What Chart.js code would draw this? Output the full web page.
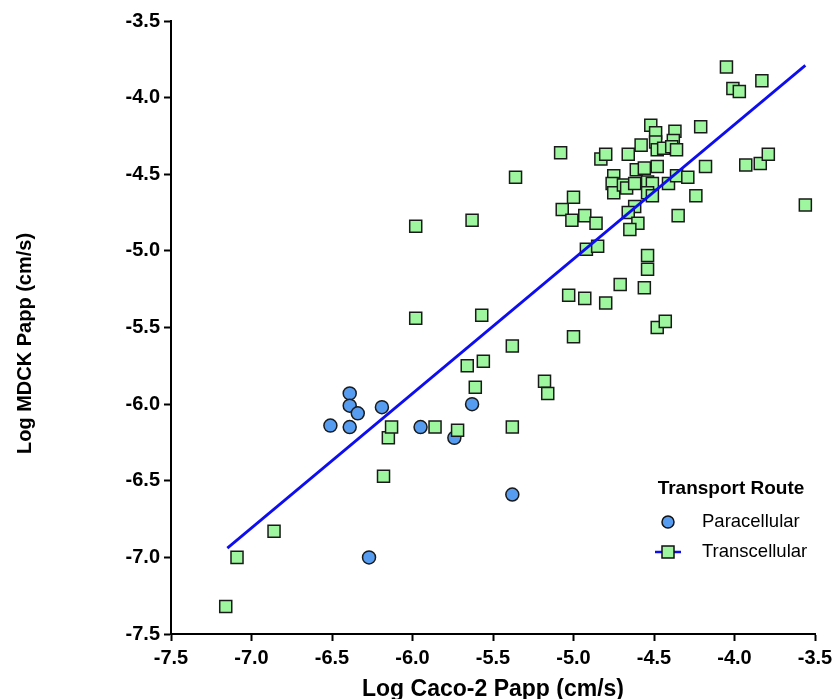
<!DOCTYPE html>
<html>
<head>
<meta charset="utf-8">
<script src="https://cdn.jsdelivr.net/npm/chart.js@4.4.1/dist/chart.umd.min.js"></script>
<style>
  body { margin: 0; background: #fff; }
  #wrap { width: 833px; height: 699px; }
</style>
</head>
<body>
<div id="wrap"><canvas id="myChart" width="833" height="699"></canvas></div>
<script>
// DATA (log Papp, cm/s)
const paraX = [-6.51, -6.39, -6.39, -6.34, -6.39, -6.19, -5.95, -5.74, -5.63, -6.27, -5.38];
const paraY = [-6.14, -5.93, -6.01, -6.06, -6.15, -6.02, -6.15, -6.22, -6.00, -7.00, -6.59];

const transX = [
  -7.16, -7.09, -6.86, -6.18, -6.15, -6.13, -5.86, -5.72, -5.38, -5.61,
  -5.66, -5.56, -5.38, -5.98, -5.57, -5.18, -5.16, -5.98, -5.63, -5.36,
  -5.08, -5.00, -5.03, -4.93, -4.80, -4.71, -4.56, -4.48, -4.43, -4.92,
  -4.85, -5.07, -5.00, -5.01, -4.93, -4.86, -4.83, -4.80, -4.66, -4.58,
  -4.52, -4.49, -4.49, -4.37, -4.38, -4.21, -4.48, -4.44, -4.39, -4.36,
  -4.61, -4.56, -4.48, -4.75, -4.76, -4.75, -4.69, -4.67, -4.62, -4.54,
  -4.51, -4.54, -4.51, -4.41, -4.36, -4.29, -4.18, -4.24, -4.35, -4.62,
  -4.66, -4.60, -4.65, -4.54, -4.54, -4.05, -4.01, -3.97, -3.83, -3.93,
  -3.84, -3.79, -3.56
];
const transY = [
  -7.32, -7.00, -6.83, -6.47, -6.22, -6.15, -6.15, -6.17, -6.15, -5.89,
  -5.75, -5.72, -5.62, -5.44, -5.42, -5.85, -5.93, -4.84, -4.80, -4.52,
  -4.36, -5.56, -5.29, -5.31, -5.34, -5.22, -5.24, -5.50, -5.46, -4.99,
  -4.97, -4.73, -4.65, -4.80, -4.77, -4.82, -4.40, -4.37, -4.37, -4.31,
  -4.18, -4.23, -4.29, -4.22, -4.28, -4.19, -4.34, -4.33, -4.32, -4.34,
  -4.47, -4.46, -4.45, -4.51, -4.56, -4.62, -4.57, -4.59, -4.56, -4.55,
  -4.56, -4.62, -4.64, -4.56, -4.51, -4.52, -4.45, -4.64, -4.77, -4.71,
  -4.75, -4.82, -4.86, -5.03, -5.12, -3.80, -3.94, -3.96, -3.89, -4.44,
  -4.43, -4.37, -4.70
];

// fitted line ends
const fitX = [-7.15, -3.56];
const fitY = [-6.94, -3.79];

const axisMin = -7.5;
const axisMax = -3.5;
const axisStep = 0.5;

const toPoints = (xs, ys) => xs.map((x, i) => ({ x: x, y: ys[i] }));

const PARA_COLOR = '#569cf0';
const TRANS_COLOR = '#9ef79e';
const LINE_COLOR = '#0d0df0';
const FONT = 'Arial, "Liberation Sans", Helvetica, sans-serif';

Chart.defaults.font.family = FONT;
Chart.defaults.color = '#000';

// y title + legend, drawn by hand so they sit where the original has them
const extras = {
  id: 'extras',
  afterDraw(chart) {
    const ctx = chart.ctx;
    const area = chart.chartArea;
    ctx.save();

    // y axis title
    ctx.save();
    ctx.translate(25, (area.top + area.bottom) / 2 + 16);
    ctx.rotate(-Math.PI / 2);
    ctx.fillStyle = '#000';
    ctx.textAlign = 'center';
    ctx.textBaseline = 'middle';
    ctx.font = 'bold 20px ' + FONT;
    ctx.fillText('Log MDCK Papp (cm/s)', 0, 0);
    ctx.restore();

    // legend
    const cx = area.right - 84;
    const top = area.bottom - 145;
    ctx.fillStyle = '#000';
    ctx.textBaseline = 'middle';
    ctx.textAlign = 'center';
    ctx.font = 'bold 19px ' + FONT;
    ctx.fillText('Transport Route', cx, top);

    const symX = area.right - 147;
    const textX = area.right - 113;
    ctx.textAlign = 'left';
    ctx.font = '18.5px ' + FONT;

    // Paracellular
    let y = top + 33;
    ctx.beginPath();
    ctx.arc(symX, y, 6, 0, Math.PI * 2);
    ctx.fillStyle = PARA_COLOR;
    ctx.fill();
    ctx.lineWidth = 1.5;
    ctx.strokeStyle = '#111';
    ctx.stroke();
    ctx.fillStyle = '#000';
    ctx.fillText('Paracellular', textX, y);

    // Transcellular
    y = top + 63;
    ctx.beginPath();
    ctx.moveTo(symX - 13, y);
    ctx.lineTo(symX + 13, y);
    ctx.strokeStyle = LINE_COLOR;
    ctx.lineWidth = 2.5;
    ctx.stroke();
    ctx.fillStyle = TRANS_COLOR;
    ctx.fillRect(symX - 6, y - 6, 12, 12);
    ctx.strokeStyle = '#111';
    ctx.lineWidth = 1.5;
    ctx.strokeRect(symX - 6, y - 6, 12, 12);
    ctx.fillStyle = '#000';
    ctx.fillText('Transcellular', textX, y);
    ctx.restore();
  }
};

const axisCommon = {
  type: 'linear',
  min: axisMin,
  max: axisMax,
  border: { display: true, color: '#000', width: 2 },
  grid: {
    display: true,
    drawOnChartArea: false,
    drawTicks: true,
    tickLength: 7,
    tickWidth: 2,
    tickColor: '#000',
  },
  ticks: {
    stepSize: axisStep,
    color: '#000',
    font: { size: 20, weight: 'bold' },
    callback: (v) => v.toFixed(1),
  },
};

const config = {
  type: 'scatter',
  data: {
    datasets: [
      {
        label: 'Fit',
        data: toPoints(fitX, fitY),
        showLine: true,
        borderColor: LINE_COLOR,
        borderWidth: 2.8,
        pointRadius: 0,
        fill: false,
        order: 0,
      },
      {
        label: 'Transcellular',
        data: toPoints(transX, transY),
        pointStyle: 'rect',
        pointRadius: 8.5,
        backgroundColor: TRANS_COLOR,
        borderColor: '#1a1a1a',
        borderWidth: 1.5,
        order: 1,
      },
      {
        label: 'Paracellular',
        data: toPoints(paraX, paraY),
        pointStyle: 'circle',
        pointRadius: 6.5,
        backgroundColor: PARA_COLOR,
        borderColor: '#1a1a1a',
        borderWidth: 1.5,
        order: 2,
      },
    ]
  },
  options: {
    responsive: false,
    animation: false,
    layout: { padding: { top: 21, right: 18, bottom: 0, left: 0 } },
    plugins: {
      legend: { display: false },
      tooltip: { enabled: false },
    },
    scales: {
      x: {
        ...axisCommon,
        position: 'bottom',
        ticks: { ...axisCommon.ticks, padding: 5 },
        title: {
          display: true,
          text: 'Log Caco-2 Papp (cm/s)',
          color: '#000',
          font: { size: 23, weight: 'bold', lineHeight: 1.0 },
          padding: { top: 0, bottom: -2 },
        },
        afterFit: (scale) => {
          scale.height = 65;
          // let the last label hang into the right margin
          scale.paddingRight = 0;
        },
      },
      y: {
        ...axisCommon,
        position: 'left',
        ticks: { ...axisCommon.ticks, padding: 4 },
        afterFit: (scale) => { scale.width = 171; },
      },
    },
  },
  plugins: [extras],
};

var myChart = new Chart(document.getElementById('myChart'), config);
</script>
</body>
</html>
